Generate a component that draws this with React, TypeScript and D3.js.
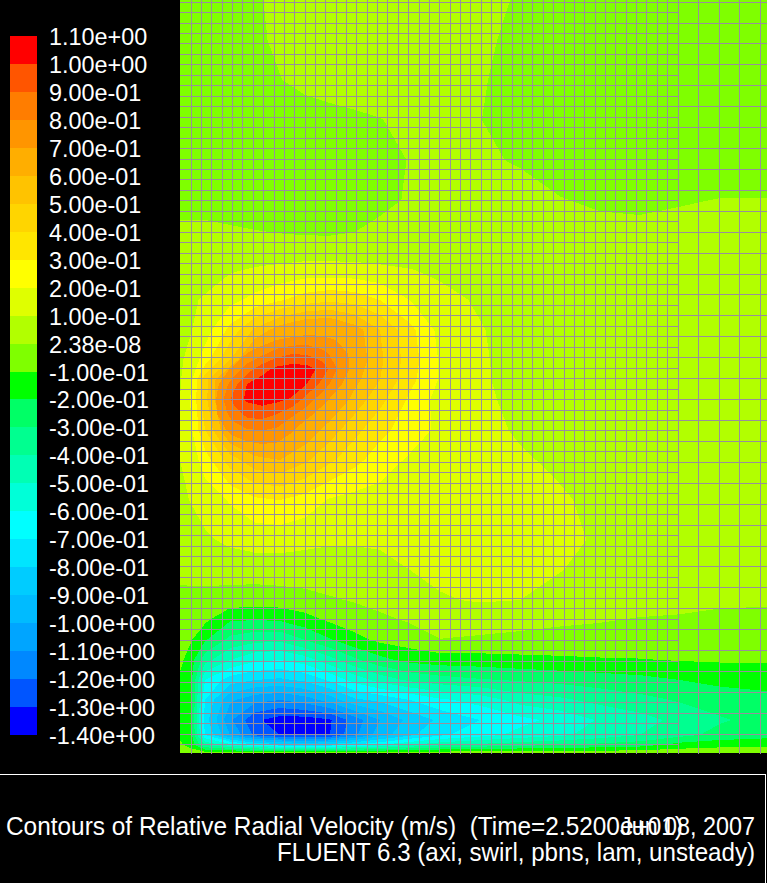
// App.tsx - FLUENT contour plot redrawn with d3.contours
import * as d3 from 'd3';
import React from 'react';

const WIDTH = 767;
const HEIGHT = 883;

// legend: one label per band edge, colours top to bottom
const legendLabels = [
  '1.10e+00', '1.00e+00', '9.00e-01', '8.00e-01', '7.00e-01', '6.00e-01', '5.00e-01',
  '4.00e-01', '3.00e-01', '2.00e-01', '1.00e-01', '2.38e-08', '-1.00e-01', '-2.00e-01',
  '-3.00e-01', '-4.00e-01', '-5.00e-01', '-6.00e-01', '-7.00e-01', '-8.00e-01', '-9.00e-01',
  '-1.00e+00', '-1.10e+00', '-1.20e+00', '-1.30e+00', '-1.40e+00',
];
const legendLevels = legendLabels.map((d) => Math.abs(+d) < 1e-6 ? 0 : +d);
const bandColors = [
  '#ff0000', '#ff5500', '#ff7d00', '#ff9500', '#ffae00', '#ffc300', '#ffd500', '#ffe600', '#ffff00',
  '#dfff00', '#b2ff00', '#7fff00', '#00ff00', '#00ff66', '#00ff90', '#00ffb4', '#00ffd8', '#00ffff',
  '#00e5ff', '#00ccff', '#00bbff', '#00a5ff', '#0088ff', '#0055ff', '#0000ff',
];

const sampleX = [180, 192, 205, 230, 255, 280, 305, 330, 355, 380, 410, 440, 480, 520, 560, 600, 640, 680, 720, 767];
const sampleY = [0, 40, 80, 120, 160, 200, 240, 270, 300, 330, 360, 380, 400, 430, 460, 500, 540, 570, 600, 620, 640, 660, 680, 700, 720, 735, 745, 753];

// radial velocity (m/s), one row per sampleY
const velocity = [
  [-.05, -.045, -.04, -.03, -.006, .012, .025, .03, .03, .03, .03, .025, .012, -.004, -.03, -.04, -.05, -.05, -.05, -.05],
  [-.05, -.045, -.04, -.03, -.012, .012, .025, .03, .035, .035, .035, .03, .012, -.016, -.03, -.04, -.05, -.05, -.05, -.05],
  [-.05, -.05, -.05, -.04, -.025, -.002, .018, .03, .035, .035, .035, .025, .005, -.02, -.035, -.04, -.05, -.05, -.05, -.05],
  [-.06, -.06, -.06, -.05, -.045, -.04, -.03, -.022, -.012, -.002, .015, .02, .001, -.02, -.04, -.05, -.05, -.05, -.05, -.05],
  [-.06, -.06, -.06, -.06, -.06, -.055, -.05, -.045, -.03, -.015, .002, .012, .008, -.005, -.03, -.04, -.04, -.04, -.04, -.04],
  [-.02, -.02, -.02, -.025, -.03, -.03, -.03, -.025, -.02, -.01, .004, .02, .03, .02, .003, -.01, -.012, -.006, .002, .002],
  [.02, .02, .02, .015, .01, .006, .004, .003, .005, .015, .03, .04, .04, .035, .03, .025, .02, .03, .035, .04],
  [.045, .05, .06, .09, .11, .125, .14, .14, .135, .12, .103, .085, .06, .05, .04, .04, .04, .045, .05, .05],
  [.07, .09, .11, .17, .23, .29, .35, .38, .36, .3, .2, .125, .09, .06, .05, .05, .05, .05, .05, .05],
  [.08, .1, .15, .33, .52, .66, .74, .75, .65, .5, .33, .17, .105, .07, .05, .05, .05, .05, .05, .05],
  [.085, .14, .25, .5, .8, .97, .98, .85, .68, .52, .35, .19, .11, .07, .055, .05, .05, .05, .05, .05],
  [.09, .2, .46, .8, 1.04, 1.08, 1.0, .8, .63, .5, .33, .19, .11, .075, .055, .05, .05, .05, .05, .05],
  [.1, .22, .47, .8, 1.02, 1.0, .88, .72, .56, .43, .28, .16, .115, .08, .055, .05, .05, .05, .05, .05],
  [.1, .2, .4, .72, .8, .78, .68, .55, .43, .33, .25, .18, .125, .09, .06, .05, .05, .05, .05, .05],
  [.1, .15, .25, .45, .57, .6, .52, .42, .33, .25, .185, .16, .135, .11, .085, .055, .05, .05, .05, .05],
  [.085, .105, .14, .21, .28, .3, .26, .19, .165, .16, .155, .15, .15, .13, .11, .08, .06, .055, .05, .05],
  [.06, .07, .085, .12, .14, .14, .125, .11, .105, .105, .13, .14, .15, .14, .12, .09, .07, .06, .055, .05],
  [.02, .028, .035, .04, .045, .05, .05, .06, .08, .09, .1, .125, .14, .13, .103, .07, .06, .055, .05, .05],
  [-.02, -.025, -.03, -.04, -.05, -.045, -.03, -.01, .008, .03, .06, .09, .11, .1, .07, .03, .03, .03, .015, .01],
  [-.04, -.06, -.08, -.19, -.2, -.19, -.14, -.085, -.05, -.02, .01, .03, .03, .025, .012, .005, -.005, -.012, -.02, -.02],
  [-.05, -.1, -.19, -.33, -.37, -.38, -.3, -.21, -.13, -.08, -.05, -.002, -.01, -.02, -.025, -.03, -.035, -.045, -.05, -.05],
  [-.07, -.17, -.36, -.5, -.58, -.6, -.55, -.44, -.32, -.23, -.17, -.15, -.145, -.13, -.12, -.11, -.105, -.095, -.09, -.09],
  [-.12, -.2, -.6, -.75, -.8, -.82, -.78, -.68, -.56, -.46, -.38, -.34, -.31, -.29, -.27, -.25, -.23, -.2, -.17, -.15],
  [-.13, -.2, -.7, -.98, -1.07, -1.1, -1.05, -.96, -.82, -.78, -.7, -.62, -.56, -.46, -.42, -.37, -.33, -.29, -.26, -.24],
  [-.14, -.2, -.75, -1.08, -1.28, -1.35, -1.35, -1.31, -1.15, -1.0, -.87, -.78, -.7, -.63, -.57, -.49, -.44, -.37, -.31, -.27],
  [-.12, -.2, -.7, -1.0, -1.22, -1.3, -1.32, -1.3, -1.12, -.95, -.82, -.72, -.64, -.57, -.52, -.46, -.4, -.33, -.27, -.24],
  [-.08, -.15, -.4, -.55, -.68, -.75, -.78, -.75, -.68, -.6, -.5, -.42, -.37, -.33, -.3, -.27, -.24, -.16, -.13, -.12],
  [-.03, -.04, -.05, -.03, -.03, -.03, -.03, -.03, -.03, -.03, -.03, -.03, -.03, -.03, -.03, -.03, -.03, -.03, -.03, -.03],
];

// finer reading around the red peak, only used for the bands from 0.7 up
const peakX = [202, 217, 232, 247, 262, 277, 292, 307, 322, 337, 352, 367];
const peakY = [324, 339, 354, 369, 384, 399, 414, 429, 444, 459];
const peakVelocity = [
  [.28, .3, .36, .42, .48, .53, .57, .595, .6, .59, .55, .5],
  [.3, .42, .5, .56, .635, .69, .72, .74, .725, .69, .635, .57],
  [.35, .45, .55, .71, .78, .858, .9, .89, .835, .76, .68, .59],
  [.4, .6, .72, .85, .96, 1.03, 1.05, 1.04, .97, .8, .68, .58],
  [.5, .68, .84, 1.0, 1.05, 1.08, 1.05, 1.0, .87, .735, .63, .52],
  [.52, .71, .92, 1.02, 1.04, 1.03, .99, .86, .745, .65, .55, .46],
  [.52, .7, .84, .93, .95, .9, .82, .74, .65, .55, .47, .39],
  [.5, .63, .75, .8, .81, .79, .72, .62, .53, .44, .37, .32],
  [.44, .54, .63, .68, .7, .69, .64, .56, .48, .4, .34, .28],
  [.38, .45, .53, .57, .6, .6, .55, .48, .41, .35, .3, .25],
];

const captionLines = ['Contours of Relative Radial Velocity (m/s)  (Time=2.5200e+01)', 'Jun 08, 2007', 'FLUENT 6.3 (axi, swirl, pbns, lam, unsteady)'];

const MESH = '#988f9b';
const FONT = '"Liberation Sans", Arial, sans-serif';
const PEAK_FROM = 0.7;

// mesh cell counts
const fineCols = 47;
const coarseCols = 4;
const meshRows = 71;

// index space of d3.contours -> axis units
function gridPath(xs: number[], ys: number[]) {
  const toX = d3.scaleLinear().domain(xs.map((_, i) => i + 0.5)).range(xs);
  const toY = d3.scaleLinear().domain(ys.map((_, i) => i + 0.5)).range(ys);
  return d3.geoPath(d3.geoTransform({
    point(x: number, y: number) {
      this.stream.point(toX(x), toY(y));
    },
  }));
}

// colour of the band that sits right above a level
const fillAbove = (t: number) => bandColors[legendLevels.findIndex((l) => Math.abs(l - t) < 1e-6) - 1];

function App() {
  const plot = { left: 180, right: WIDTH, top: 0, bottom: 754 };

  const legendY = d3.scaleLinear().domain([1.1, -1.4]).range([36, 735]);

  // pad the grid by one sample on each side so the contour edges land past the clip
  const paddedX = [sampleX[0] - 20, ...sampleX, sampleX[sampleX.length - 1] + 20];
  const paddedY = [sampleY[0] - 20, ...sampleY, sampleY[sampleY.length - 1] + 20];
  const paddedRows = [velocity[0], ...velocity, velocity[velocity.length - 1]].map((r) => [r[0], ...r, r[r.length - 1]]);

  const levels = legendLevels.slice(1, -1).reverse(); // -1.3 ... 1.0, low to high
  const mainLevels = levels.filter((t) => t < PEAK_FROM - 1e-6);
  const peakLevels = levels.filter((t) => t >= PEAK_FROM - 1e-6);

  const mainContours = d3.contours().size([paddedX.length, paddedY.length]).thresholds(mainLevels)(paddedRows.flat());
  const peakContours = d3.contours().size([peakX.length, peakY.length]).thresholds(peakLevels)(peakVelocity.flat());

  const mainPath = gridPath(paddedX, paddedY);
  const peakPath = gridPath(peakX, peakY);

  const meshX = d3.scaleLinear().domain([0, fineCols]).range([190.7, 677.5]);
  const coarseX = d3.scaleLinear().domain([0, coarseCols]).range([677.5, 760]);
  const meshY = d3.scaleLinear().domain([0, meshRows]).range([744.3, 1.6]);
  const px = (v: number) => Math.round(v) + 0.5;

  const verticals = [...d3.range(fineCols + 1).map((k) => meshX(k)), ...d3.range(1, coarseCols + 1).map((k) => coarseX(k))];

  return (
    <svg width={WIDTH} height={HEIGHT} style={{ position: 'absolute', left: 0, top: 0, background: '#000', display: 'block' }}>
      <defs>
        <clipPath id="plot-clip">
          <rect x={plot.left} y={plot.top} width={plot.right - plot.left} height={753 - plot.top} />
        </clipPath>
      </defs>

      <g clipPath="url(#plot-clip)" shapeRendering="crispEdges">
        <rect x={plot.left} y={plot.top} width={plot.right - plot.left} height={754} fill={bandColors[bandColors.length - 1]} />
        {mainContours.map((c) => (
          <path key={c.value} d={mainPath(c as any) || ''} fill={fillAbove(c.value)} />
        ))}
        {peakContours.map((c) => (
          <path key={c.value} d={peakPath(c as any) || ''} fill={fillAbove(c.value)} />
        ))}
      </g>

      <g stroke={MESH} strokeWidth={1} shapeRendering="crispEdges">
        {verticals.map((x, i) => (
          <line key={i} x1={px(x)} x2={px(x)} y1={plot.top} y2={plot.bottom} />
        ))}
        {d3.range(meshRows + 1).map((k) => (
          <line key={k} x1={plot.left} x2={k % 2 ? plot.right : px(meshX(fineCols))} y1={px(meshY(k))} y2={px(meshY(k))} />
        ))}
      </g>

      <g shapeRendering="crispEdges">
        {bandColors.map((c, i) => (
          <rect key={c} x={10} width={27} y={legendY(legendLevels[i])} height={legendY(legendLevels[i + 1]) - legendY(legendLevels[i])} fill={c} />
        ))}
      </g>
      <g fill="#fff" fontFamily={FONT} fontSize={23.4}>
        {legendLabels.map((d, i) => (
          <text key={d} x={49} y={legendY(legendLevels[i]) + 9}>{d}</text>
        ))}
      </g>

      <g stroke="#fff" strokeWidth={1} fill="none" shapeRendering="crispEdges">
        <line x1={0} x2={765.5} y1={774.5} y2={774.5} />
        <line x1={765.5} x2={765.5} y1={774.5} y2={HEIGHT} />
      </g>

      <g fill="#fff" fontFamily={FONT} fontSize={25}>
        <text x={6} y={835} xmlSpace="preserve" style={{ whiteSpace: 'pre' }} textLength={677} lengthAdjust="spacingAndGlyphs">{captionLines[0]}</text>
        <text x={620} y={835} textLength={135} lengthAdjust="spacingAndGlyphs">{captionLines[1]}</text>
        <text x={277} y={861} textLength={478} lengthAdjust="spacingAndGlyphs">{captionLines[2]}</text>
      </g>
    </svg>
  );
}

export default App;
